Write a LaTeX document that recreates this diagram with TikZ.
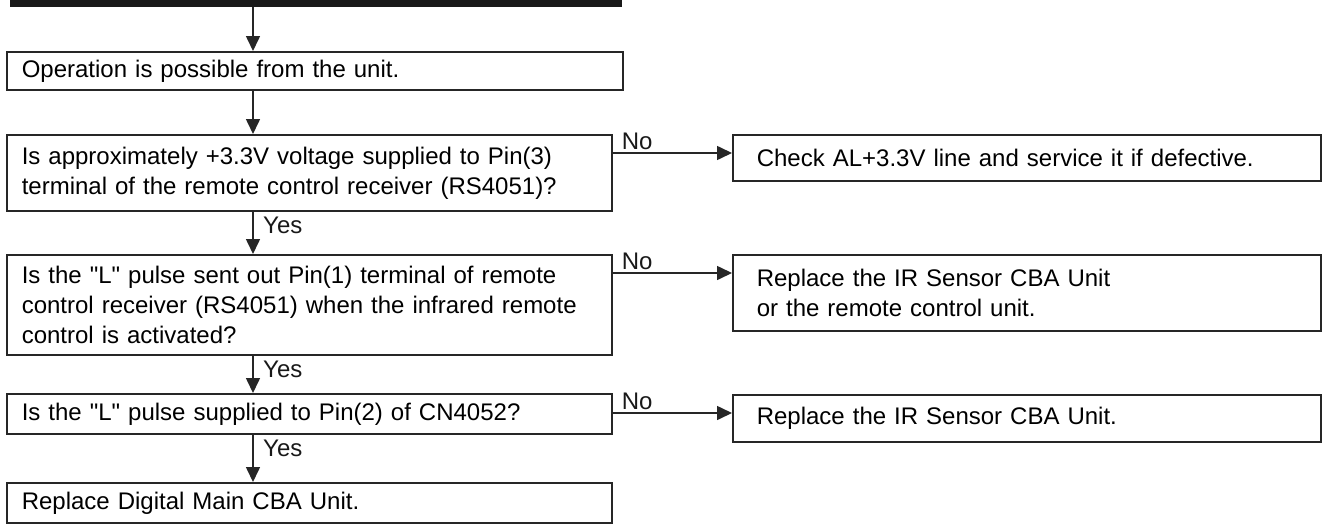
\documentclass[tikz,border=0pt]{standalone}
\usepackage{fontspec}
\setmainfont{Liberation Sans}[Ligatures=TeXOff]
\usetikzlibrary{arrows.meta,calc}
\begin{document}
\begin{tikzpicture}[x=1pt,y=1pt,
  font=\fontsize{24}{30}\selectfont,
  lbox/.style={draw=black!85, line width=1.6pt, rectangle, anchor=north west, inner xsep=15pt, inner ysep=0pt, align=left},
  rbox/.style={draw=black!85, line width=1.6pt, rectangle, anchor=north west, inner xsep=24pt, inner ysep=0pt, align=left},
  arr/.style={draw=black!85, line width=1.6pt, -{Triangle[length=15pt,width=14pt]}},
  lbl/.style={inner sep=0pt, text=black!90}]
\useasboundingbox (0,0) rectangle (1322,-525);
% top bar (bottom of a cut-off box)
\fill[black!90] (10,0) rectangle (622,-7);
\coordinate (top) at (253,-7);
% left column
\node[lbox, minimum height=38pt, text width=586pt] (q0) at (6,-51) {Operation is possible from the unit.};
\node[lbox, minimum height=76pt, text width=575pt] (q1) at (6,-134) {Is approximately +3.3V voltage supplied to Pin(3)\\terminal of the remote control receiver (RS4051)?};
\node[lbox, minimum height=100pt, text width=575pt] (q2) at (6,-254) {Is the "L" pulse sent out Pin(1) terminal of remote\\control receiver (RS4051) when the infrared remote\\control is activated?};
\node[lbox, minimum height=40pt, text width=575pt] (q3) at (6,-393) {Is the "L" pulse supplied to Pin(2) of CN4052?};
\node[lbox, minimum height=40pt, text width=575pt] (q4) at (6,-482) {Replace Digital Main CBA Unit.};
% right column
\node[rbox, minimum height=46pt, text width=540pt] (r1) at (732,-134) {Check AL+3.3V line and service it if defective.};
\node[rbox, minimum height=76pt, text width=540pt] (r2) at (732,-254) {Replace the IR Sensor CBA Unit\\or the remote control unit.};
\node[rbox, minimum height=47pt, text width=540pt] (r3) at (732,-394) {Replace the IR Sensor CBA Unit.};
% vertical arrows
\draw[arr] (top) -- (top |- q0.north);
\draw[arr] (top |- q0.south) -- (top |- q1.north);
\draw[arr] (top |- q1.south) -- (top |- q2.north);
\draw[arr] (top |- q2.south) -- (top |- q3.north);
\draw[arr] (top |- q3.south) -- (top |- q4.north);
% Yes labels
\node[lbl, anchor=north west] (y1) at ($(top |- q1.south)+(10,-5)$) {Yes};
\node[lbl, anchor=north west] (y2) at ($(top |- q2.south)+(10,-5)$) {Yes};
\node[lbl, anchor=north west] (y3) at ($(top |- q3.south)+(10,-5)$) {Yes};
% No branches
\coordinate (n1) at ($(q1.north east)+(0,-19)$);
\coordinate (n2) at ($(q2.north east)+(0,-19)$);
\coordinate (n3) at ($(q3.north east)+(0,-20)$);
\draw[arr] (n1) -- (n1 -| r1.west);
\draw[arr] (n2) -- (n2 -| r2.west);
\draw[arr] (n3) -- (n3 -| r3.west);
\node[lbl, anchor=south west] (no1) at ($(n1)+(9,3)$) {No};
\node[lbl, anchor=south west] (no2) at ($(n2)+(9,3)$) {No};
\node[lbl, anchor=south west] (no3) at ($(n3)+(9,3)$) {No};
\end{tikzpicture}
\end{document}
